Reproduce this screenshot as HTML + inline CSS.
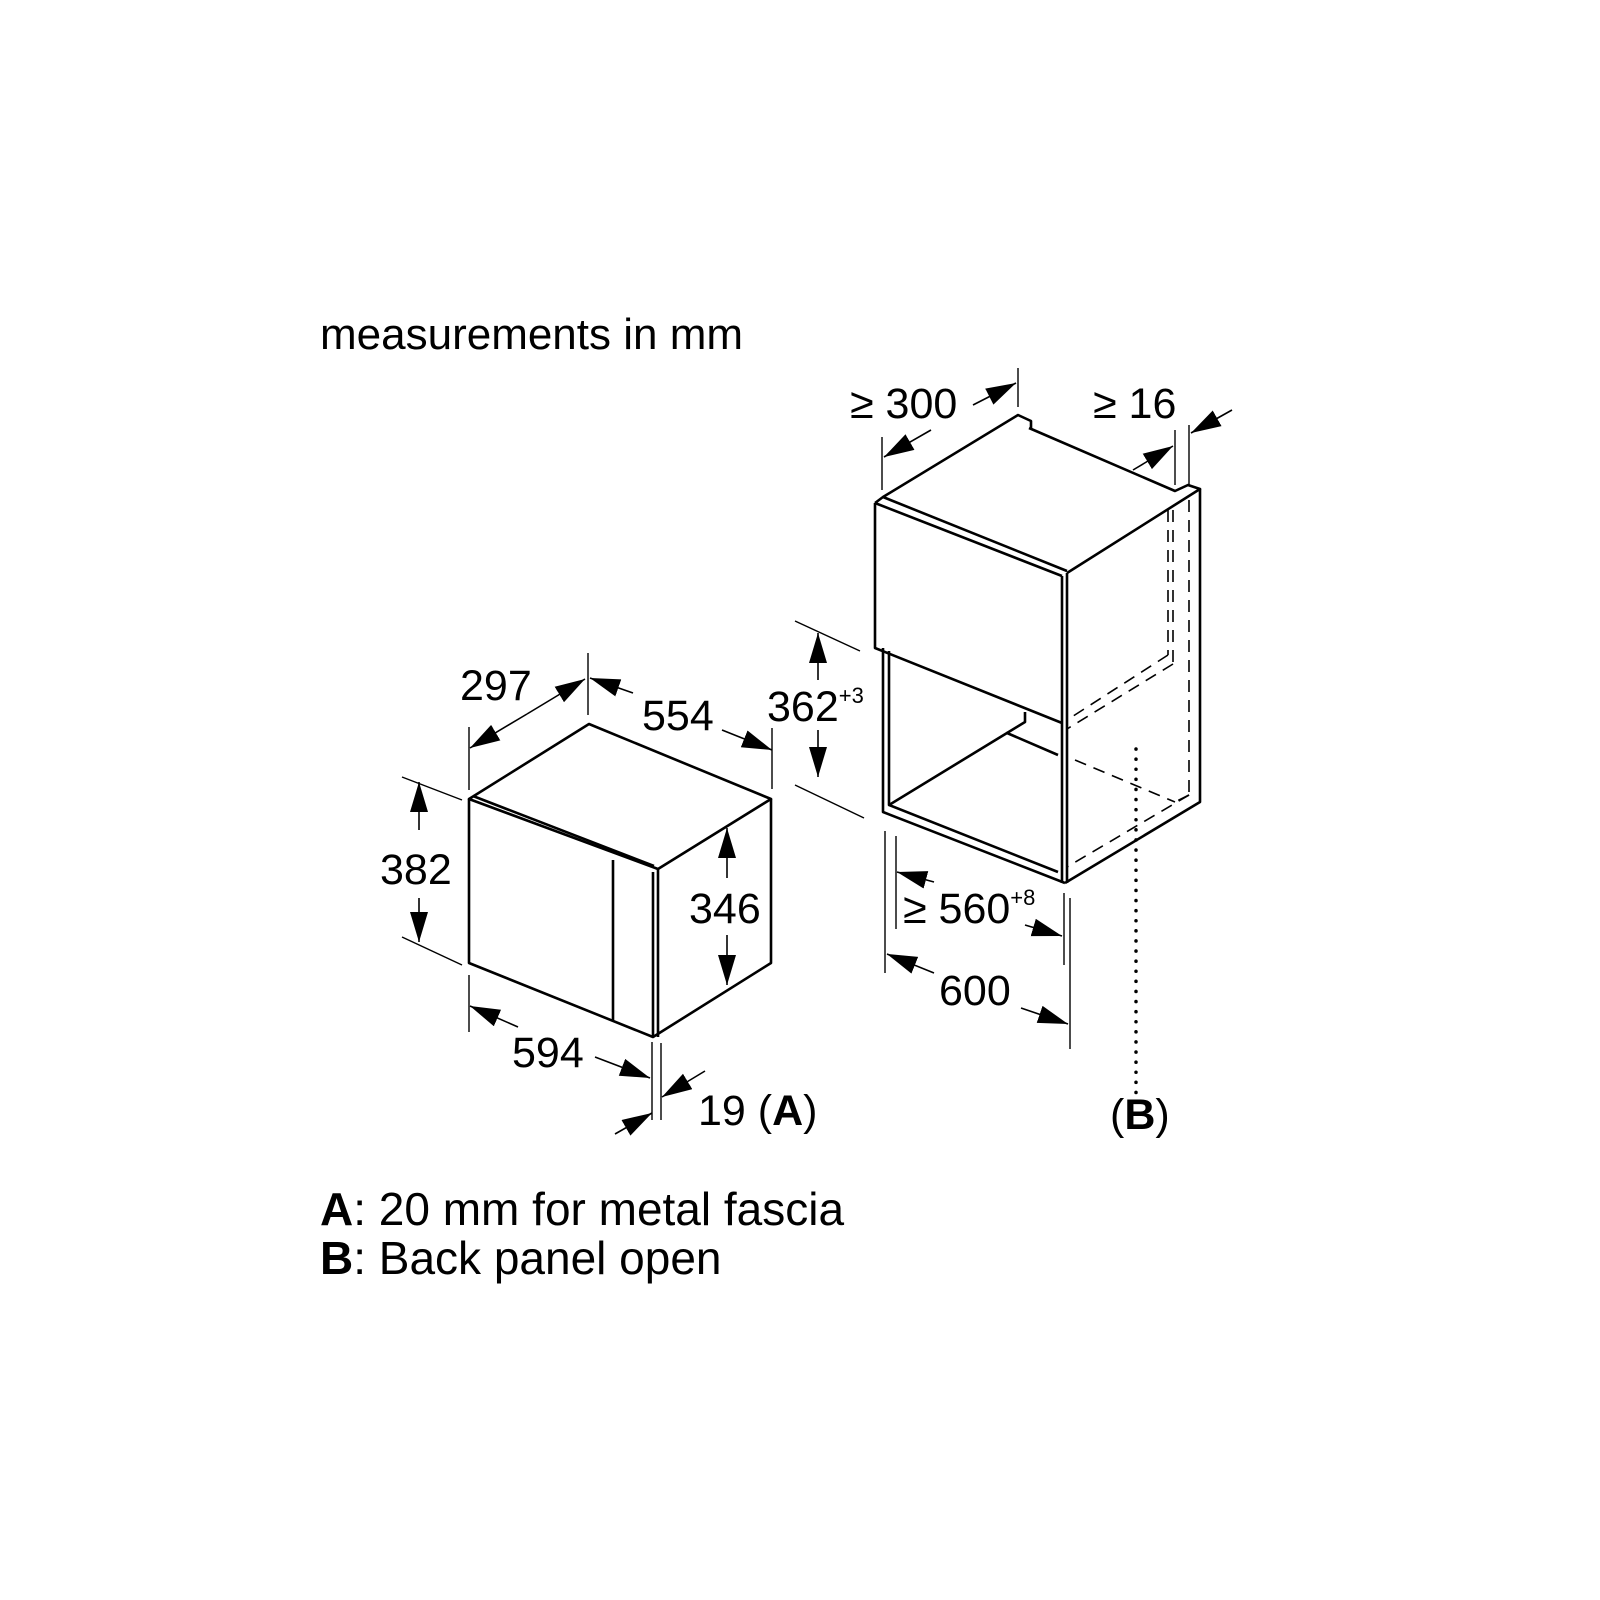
<!DOCTYPE html>
<html><head><meta charset="utf-8"><style>
html,body{margin:0;padding:0;background:#fff;}
svg{display:block;}
text{font-family:"Liberation Sans",Arial,sans-serif;fill:#000;}
</style></head><body>
<svg width="1600" height="1600" viewBox="0 0 1600 1600" xmlns="http://www.w3.org/2000/svg">
<defs>
<marker id="a" markerUnits="userSpaceOnUse" markerWidth="32" markerHeight="20" refX="30" refY="9" orient="auto">
<path d="M0,0 L30,9 L0,18 z" fill="#000"/>
</marker>
</defs>
<rect width="1600" height="1600" fill="#fff"/>

<text x="320" y="349" font-size="44">measurements in mm</text>
<text x="320" y="1225" font-size="46"><tspan font-weight="bold">A</tspan>: 20 mm for metal fascia</text>
<text x="320" y="1274" font-size="46"><tspan font-weight="bold">B</tspan>: Back panel open</text>

<!-- Microwave -->
<g fill="none" stroke="#000" stroke-width="2.6" stroke-linejoin="round">
<path d="M469,799 L589,724 L771,799 L658,869 Z"/>
<path d="M473,796 L654,866"/>
<path d="M469,799 L469,963 L653,1037 L771,963 L771,799"/>
<path d="M658,869 L658,1037"/>
<path d="M653,872 L653,1037"/>
<path d="M613,860 L613,1020"/>
</g>
<g fill="none" stroke="#000" stroke-width="1.4">
<line x1="469" y1="727" x2="469" y2="790"/>
<line x1="588" y1="653" x2="588" y2="715"/>
<line x1="772" y1="728" x2="772" y2="789"/>
<line x1="402" y1="777" x2="462" y2="800"/>
<line x1="402" y1="937" x2="462" y2="965"/>
<line x1="469" y1="975" x2="469" y2="1032"/>
<line x1="652" y1="1042" x2="652" y2="1120"/>
<line x1="661" y1="1043" x2="661" y2="1120"/>
</g>
<g fill="none" stroke="#000" stroke-width="1.6" marker-end="url(#a)">
<line x1="527" y1="714" x2="470" y2="748"/>
<line x1="527" y1="714" x2="585" y2="679"/>
<line x1="633" y1="693" x2="590" y2="678"/>
<line x1="722" y1="730" x2="772" y2="750"/>
<line x1="419" y1="830" x2="419" y2="782"/>
<line x1="419" y1="898" x2="419" y2="942"/>
<line x1="727" y1="878" x2="727" y2="828"/>
<line x1="727" y1="935" x2="727" y2="985"/>
<line x1="518" y1="1027" x2="470" y2="1006"/>
<line x1="595" y1="1057" x2="650" y2="1078"/>
<line x1="705" y1="1071" x2="662" y2="1097"/>
<line x1="615" y1="1134" x2="652" y2="1113"/>
</g>
<text x="460" y="700" font-size="43">297</text>
<text x="642" y="730" font-size="43">554</text>
<text x="380" y="884" font-size="43">382</text>
<text x="689" y="923" font-size="43">346</text>
<text x="512" y="1067" font-size="43">594</text>
<text x="698" y="1125" font-size="43">19 (<tspan font-weight="bold">A</tspan>)</text>

<!-- Cabinet -->
<g fill="none" stroke="#000" stroke-width="2.6" stroke-linejoin="round">
<path d="M875,503 L883,497 L1018,415 L1031,421 L1031,429"/>
<path d="M1029,428 L1175,491 L1188,485 L1200,489 L1067,573"/>
<path d="M875,503 L1062,576"/>
<path d="M883,497 L1067,571"/>
<path d="M875,503 L875,648 L1062,723"/>
<path d="M1062,576 L1062,883"/>
<path d="M1067,573 L1067,883"/>
<path d="M1200,489 L1200,802 L1065,883"/>
<path d="M883,648 L883,812 L1065,883"/>
<path d="M889,651 L889,805 L1058,872"/>
<path d="M889,805 L1007,733 L1058,755"/>
<path d="M1007,733 L1025,722 L1025,712"/>
</g>
<g fill="none" stroke="#000" stroke-width="1.6" stroke-dasharray="12,8">
<line x1="1168" y1="510" x2="1168" y2="655"/>
<line x1="1173" y1="510" x2="1173" y2="664"/>
<line x1="1168" y1="655" x2="1067" y2="720"/>
<line x1="1173" y1="664" x2="1067" y2="729"/>
<line x1="1189" y1="500" x2="1189" y2="795"/>
<line x1="1189" y1="795" x2="1175" y2="802"/>
<line x1="1075" y1="760" x2="1175" y2="802"/>
<line x1="1189" y1="795" x2="1067" y2="867"/>
</g>
<line x1="1136" y1="749" x2="1136" y2="1095" stroke="#000" stroke-width="3.5" stroke-dasharray="0.1,10" stroke-linecap="round"/>
<g fill="none" stroke="#000" stroke-width="1.4">
<line x1="882" y1="437" x2="882" y2="490"/>
<line x1="1018" y1="368" x2="1018" y2="407"/>
<line x1="1175" y1="430" x2="1175" y2="485"/>
<line x1="1189" y1="425" x2="1189" y2="485"/>
<line x1="795" y1="621" x2="860" y2="651"/>
<line x1="795" y1="785" x2="864" y2="818"/>
<line x1="885" y1="831" x2="885" y2="973"/>
<line x1="896" y1="836" x2="896" y2="929"/>
<line x1="1064" y1="893" x2="1064" y2="965"/>
<line x1="1070" y1="898" x2="1070" y2="1049"/>
</g>
<g fill="none" stroke="#000" stroke-width="1.6" marker-end="url(#a)">
<line x1="931" y1="430" x2="884" y2="457"/>
<line x1="973" y1="405" x2="1016" y2="383"/>
<line x1="1133" y1="470" x2="1173" y2="446"/>
<line x1="1232" y1="410" x2="1191" y2="433"/>
<line x1="818" y1="680" x2="818" y2="633"/>
<line x1="818" y1="730" x2="818" y2="777"/>
<line x1="934" y1="882" x2="897" y2="872"/>
<line x1="1025" y1="925" x2="1062" y2="936"/>
<line x1="934" y1="973" x2="887" y2="954"/>
<line x1="1021" y1="1008" x2="1068" y2="1024"/>
</g>
<text x="850" y="418" font-size="43">≥ 300</text>
<text x="1093" y="418" font-size="43">≥ 16</text>
<text x="767" y="721" font-size="43">362<tspan font-size="22" dy="-18">+3</tspan></text>
<text x="903" y="923" font-size="43">≥ 560<tspan font-size="22" dy="-18">+8</tspan></text>
<text x="939" y="1005" font-size="43">600</text>
<text x="1110" y="1129" font-size="43">(<tspan font-weight="bold">B</tspan>)</text>
</svg>
</body></html>
